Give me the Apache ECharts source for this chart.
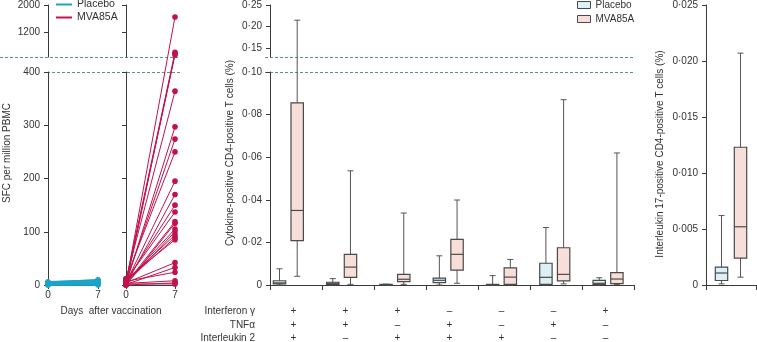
<!DOCTYPE html>
<html>
<head>
<meta charset="utf-8">
<title>MVA85A immunogenicity</title>
<script src="https://cdn.jsdelivr.net/npm/echarts@6.0.0/dist/echarts.min.js"></script>
<style>
  html, body { margin: 0; padding: 0; background: #fff; }
  #chart { width: 757px; height: 342px; }
</style>
</head>
<body>
<div id="chart"></div>
<script>
// ---- data ----
// ELISpot, one pair of values (day 0, day 7) per participant
const days = [0, 7];
const placeboDay0 = [2, 5, 0, 3, 6, 1, 4, 2, 0, 3, 5, 1];
const placeboDay7 = [4, 8, 1, 6, 9, 2, 3, 7, 0, 5, 10, 2];
const mvaDay0 = [3, 8, 0, 5, 10, 2, 6, 12, 4, 1, 7, 9, 3, 0, 5, 2, 8, 6, 11, 4, 1, 7, 3, 0, 2];
const mvaDay7 = [1650, 620, 580, 540, 364, 297, 274, 250, 195, 170, 150, 137, 119, 116, 105, 100, 94, 89, 85, 42, 33, 24, 8, 4, 2];

// cytokine combinations (x categories of the middle panel)
const cytokineNames = ['Interferon γ', 'TNFα', 'Interleukin 2'];
const ifnSigns = ['+', '+', '+', '–', '–', '–', '+'];
const tnfSigns = ['+', '+', '–', '+', '–', '+', '–'];
const il2Signs = ['+', '–', '+', '+', '+', '–', '–'];
const combos = ifnSigns.map((s, i) => s + tnfSigns[i] + il2Signs[i]);

// box stats per combination: [low, q1, median, q3, high] (%)
const placeboBoxes = [
  [0, 0.0005, 0.001, 0.002, 0.0076],
  [0, 0.0003, 0.0008, 0.0013, 0.003],
  [0, 0.0001, 0.0002, 0.0003, 0.0004],
  [0, 0.0011, 0.0022, 0.0032, 0.0137],
  [0, 0, 0.0001, 0.0003, 0.0044],
  [0, 0.0003, 0.0036, 0.0102, 0.027],
  [0, 0.0003, 0.0008, 0.0022, 0.0034]
];
const mvaBoxes = [
  [0.0041, 0.0208, 0.035, 0.0855, 0.215],
  [0.0003, 0.0036, 0.0084, 0.0144, 0.0536],
  [0.0003, 0.0016, 0.0027, 0.005, 0.0338],
  [0.0008, 0.007, 0.0144, 0.0214, 0.0399],
  [0, 0.0003, 0.0037, 0.008, 0.012],
  [0.0005, 0.0019, 0.005, 0.0175, 0.087],
  [0.0003, 0.0006, 0.0028, 0.0058, 0.062]
];
// interleukin 17
const il17Placebo = [0.0001, 0.0004, 0.00107, 0.0016, 0.0062];
const il17Mva = [0.0007, 0.0024, 0.0052, 0.0123, 0.0207];

// axis ranges / ticks
const leftLow = [0, 400], leftHigh = [480, 2000], leftHighTicks = [1200, 2000];
const midLow = [0, 0.1], midHigh = [0.13, 0.25], midHighTicks = [0.15, 0.2, 0.25];
const il17Range = [0, 0.025];

// ---- style ----
const UP_TOP = 5, UP_H = 52, LO_TOP = 72, LO_H = 213;
const FONT = 'Liberation Sans';
const TEXT = '#333';
const AXIS = '#3a3a3a';
const BREAK = '#5e8f99';
const C_PLACEBO = '#1ca4c8';
const C_MVA = '#c0124b';
const F_PLACEBO = '#dcf0f5';
const F_MVA = '#f7ded9';
const BOX_EDGE = '#4a4a4a';
const WHISKER = '#555';

const chart = echarts.init(document.getElementById('chart'));

const fmt = digits => v => (v === 0 ? '0' : v.toFixed(digits).replace('.', '·'));
const plain = v => String(v);

function yAxis(gridIndex, range, o) {
  o = o || {};
  return {
    type: 'value', gridIndex, min: range[0], max: range[1], interval: o.interval,
    axisLine: { show: true, lineStyle: { color: AXIS } },
    axisTick: { show: true, length: 4, lineStyle: { color: AXIS }, customValues: o.ticks },
    axisLabel: {
      show: !!o.labels, color: TEXT, fontSize: 10, fontFamily: FONT, margin: 8,
      formatter: o.format || plain, customValues: o.ticks
    },
    splitLine: { show: false }
  };
}
function hiddenAxis(gridIndex, type, extra) {
  return Object.assign({ type, gridIndex, show: false }, extra);
}
function dayAxis(gridIndex) {
  return {
    type: 'value', gridIndex, min: days[0], max: days[1], interval: days[1] - days[0],
    axisLine: { show: true, lineStyle: { color: AXIS } },
    axisTick: { show: true, length: 4, lineStyle: { color: AXIS } },
    axisLabel: { color: TEXT, fontSize: 10, fontFamily: FONT, margin: 5 },
    splitLine: { show: false }
  };
}

// one participant: line from day 0 to day 7, values above the break go to the upper grid
function subjectRenderer(color, upperGrid, r, width) {
  return function (params, api) {
    const pos = (day, v) => (v > leftLow[1]
      ? chart.convertToPixel({ gridIndex: upperGrid }, [day, v])
      : api.coord([day, v]));
    const a = pos(days[0], api.value(0));
    const b = pos(days[1], api.value(1));
    return {
      type: 'group',
      children: [
        { type: 'line', shape: { x1: a[0], y1: a[1], x2: b[0], y2: b[1] }, style: { stroke: color, lineWidth: width } },
        { type: 'circle', shape: { cx: a[0], cy: a[1], r }, style: { fill: color } },
        { type: 'circle', shape: { cx: b[0], cy: b[1], r }, style: { fill: color } }
      ]
    };
  };
}

// box + whiskers, offset in px from the band centre
function boxRenderer(offset, fill, upperGrid, breakValue) {
  return function (params, api) {
    const cat = api.value(0);
    const cx = api.coord([cat, 0])[0] + offset;
    const py = v => (upperGrid != null && v > breakValue
      ? chart.convertToPixel({ gridIndex: upperGrid }, [0, v])[1]
      : api.coord([cat, v])[1]);
    const lo = py(api.value(1)), q1 = py(api.value(2)), med = py(api.value(3));
    const q3 = py(api.value(4)), hi = py(api.value(5));
    const hw = 6.2, cw = 3;
    const seg = (x1, y1, x2, y2, stroke, w) => ({
      type: 'line', shape: { x1, y1, x2, y2 }, style: { stroke, lineWidth: w || 1 }
    });
    return {
      type: 'group',
      children: [
        seg(cx, hi, cx, lo, WHISKER),
        seg(cx - cw, hi, cx + cw, hi, WHISKER),
        seg(cx - cw, lo, cx + cw, lo, WHISKER),
        {
          type: 'rect',
          shape: { x: cx - hw, y: q3, width: hw * 2, height: Math.max(q1 - q3, 0.5) },
          style: { fill, stroke: BOX_EDGE, lineWidth: 1.2 }
        },
        seg(cx - hw, med, cx + hw, med, BOX_EDGE, 1.2)
      ]
    };
  };
}

function dashed(x1, x2, y) {
  return { type: 'line', silent: true, shape: { x1, y1: y, x2, y2: y }, style: { stroke: BREAK, lineWidth: 1, lineDash: [3, 2] } };
}
function label(text, x, y, align, rotation) {
  return {
    type: 'text', x, y, rotation: rotation || 0, silent: true,
    style: { text, fill: TEXT, fontSize: 10, fontFamily: FONT, align, verticalAlign: 'middle' }
  };
}

const grid = [
  { left: 48, top: UP_TOP, width: 50, height: UP_H },
  { left: 48, top: LO_TOP, width: 50, height: LO_H },
  { left: 126, top: UP_TOP, width: 49, height: UP_H },
  { left: 126, top: LO_TOP, width: 49, height: LO_H },
  { left: 270, top: UP_TOP, width: 364, height: UP_H },
  { left: 270, top: LO_TOP, width: 364, height: LO_H },
  { left: 261.7, top: LO_TOP, width: 373, height: LO_H },
  { left: 706, top: UP_TOP, width: 50, height: 280 }
].map(g => Object.assign({ outerBoundsMode: 'none', containLabel: false }, g));

const option = {
  animation: false,
  grid,
  legend: [
    {
      left: 56, top: -2, orient: 'vertical', padding: 0, itemGap: 0,
      itemWidth: 16, itemHeight: 2, icon: 'rect', selectedMode: false,
      textStyle: { color: TEXT, fontSize: 10.5, fontFamily: FONT, lineHeight: 13 },
      data: [
        { name: 'Placebo', itemStyle: { color: C_PLACEBO, borderWidth: 0 } },
        { name: 'MVA85A', itemStyle: { color: C_MVA, borderWidth: 0 } }
      ]
    },
    {
      left: 577, top: -2, orient: 'vertical', padding: 0, itemGap: 0,
      itemWidth: 13, itemHeight: 7, icon: 'rect', selectedMode: false,
      textStyle: { color: TEXT, fontSize: 10, fontFamily: FONT, lineHeight: 14 },
      data: [
        { name: 'Placebo', itemStyle: { color: F_PLACEBO, borderColor: BOX_EDGE, borderWidth: 1 } },
        { name: 'MVA85A', itemStyle: { color: F_MVA, borderColor: BOX_EDGE, borderWidth: 1 } }
      ]
    }
  ],
  xAxis: [
    hiddenAxis(0, 'value', { min: days[0], max: days[1] }),
    dayAxis(1),
    hiddenAxis(2, 'value', { min: days[0], max: days[1] }),
    dayAxis(3),
    hiddenAxis(4, 'category', { data: combos }),
    {
      type: 'category', gridIndex: 5, data: combos,
      axisLine: { show: true, lineStyle: { color: AXIS } },
      axisTick: { show: true, length: 5, lineStyle: { color: AXIS } },
      axisLabel: {
        interval: 0, color: TEXT, fontSize: 10, fontFamily: FONT, margin: 20, lineHeight: 13.2,
        padding: [0, 5, 0, 0],
        formatter: (v, i) => ifnSigns[i] + '\n' + tnfSigns[i] + '\n' + il2Signs[i]
      }
    },
    hiddenAxis(6, 'category', { data: combos }),
    {
      type: 'category', gridIndex: 7, data: ['Interleukin 17'],
      axisLine: { show: true, lineStyle: { color: AXIS } },
      axisTick: { show: true, length: 5, lineStyle: { color: AXIS } },
      axisLabel: { show: false }
    }
  ],
  yAxis: [
    yAxis(0, leftHigh, { ticks: leftHighTicks, labels: true }),
    yAxis(1, leftLow, { interval: 100, labels: true }),
    yAxis(2, leftHigh, { ticks: leftHighTicks }),
    yAxis(3, leftLow, { interval: 100 }),
    yAxis(4, midHigh, { ticks: midHighTicks, labels: true, format: fmt(2) }),
    yAxis(5, midLow, { interval: 0.02, labels: true, format: fmt(2) }),
    hiddenAxis(6, 'value', { min: midLow[0], max: midLow[1] }),
    yAxis(7, il17Range, { interval: 0.005, labels: true, format: fmt(3) })
  ],
  graphic: [
    // axis break markers
    dashed(0, 180, UP_TOP + UP_H + 0.5),
    dashed(47, 180, LO_TOP + 0.5),
    dashed(265, 635, UP_TOP + UP_H + 0.5),
    dashed(265, 635, LO_TOP + 0.5),
    // axis titles
    label('SFC per million PBMC', 7, 153, 'center', Math.PI / 2),
    label('Cytokine-positive CD4-positive T cells (%)', 230, 153, 'center', Math.PI / 2),
    label('Interleukin 17-positive CD4-positive T cells (%)', 660, 154, 'center', Math.PI / 2),
    label('Days  after vaccination', 111, 311, 'center'),
    ...cytokineNames.map((n, i) => label(n, 255, 311.7 + i * 13.2, 'right'))
  ],
  series: [
    {
      name: 'Placebo', type: 'custom', xAxisIndex: 1, yAxisIndex: 1, silent: true,
      itemStyle: { color: C_PLACEBO },
      renderItem: subjectRenderer(C_PLACEBO, 0, 2.7, 1.5),
      data: placeboDay0.map((v, i) => [v, placeboDay7[i]])
    },
    {
      name: 'MVA85A', type: 'custom', xAxisIndex: 3, yAxisIndex: 3, silent: true,
      itemStyle: { color: C_MVA },
      renderItem: subjectRenderer(C_MVA, 2, 2.8, 1),
      data: mvaDay0.map((v, i) => [v, mvaDay7[i]])
    },
    {
      name: 'Placebo', type: 'custom', xAxisIndex: 6, yAxisIndex: 6, silent: true,
      itemStyle: { color: F_PLACEBO },
      renderItem: boxRenderer(-8.85, F_PLACEBO, 4, midLow[1]),
      data: placeboBoxes.map((b, i) => [i, ...b])
    },
    {
      name: 'MVA85A', type: 'custom', xAxisIndex: 6, yAxisIndex: 6, silent: true,
      itemStyle: { color: F_MVA },
      renderItem: boxRenderer(8.85, F_MVA, 4, midLow[1]),
      data: mvaBoxes.map((b, i) => [i, ...b])
    },
    {
      name: 'Placebo', type: 'custom', xAxisIndex: 7, yAxisIndex: 7, silent: true,
      itemStyle: { color: F_PLACEBO },
      renderItem: boxRenderer(-9.5, F_PLACEBO, null, Infinity),
      data: [[0, ...il17Placebo]]
    },
    {
      name: 'MVA85A', type: 'custom', xAxisIndex: 7, yAxisIndex: 7, silent: true,
      itemStyle: { color: F_MVA },
      renderItem: boxRenderer(9.5, F_MVA, null, Infinity),
      data: [[0, ...il17Mva]]
    }
  ]
};

chart.setOption(option);
</script>
</body>
</html>
